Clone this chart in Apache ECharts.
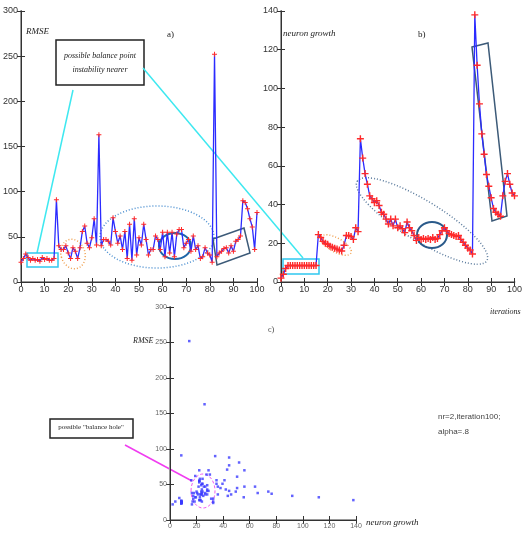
<!DOCTYPE html>
<html>
<head>
<meta charset="utf-8">
<script src="https://cdn.jsdelivr.net/npm/echarts@6/dist/echarts.min.js"></script>
<style>
html, body { margin: 0; padding: 0; background: #fff; }
#main { width: 525px; height: 533px; }
</style>
</head>
<body>
<div id="main"></div>
<script>
// a) RMSE per iteration (iterations 0..100)
var rmse = [22, 26, 31, 27, 24, 26, 24, 25, 23, 27, 25, 26, 24, 24, 26, 91, 40, 36, 36, 40,
	32, 26, 38, 34, 26, 38, 56, 62, 43, 38, 49, 70, 41, 163, 40, 47, 47, 45, 41, 71,
	56, 43, 51, 36, 56, 26, 64, 24, 70, 30, 49, 41, 64, 47, 30, 36, 36, 51, 47, 36,
	55, 28, 55, 32, 55, 28, 53, 58, 58, 38, 43, 47, 34, 51, 36, 40, 26, 28, 38, 32,
	30, 22, 252, 28, 32, 34, 37, 38, 32, 40, 34, 45, 47, 51, 90, 88, 81, 70, 61, 36, 77];
// b) neuron growth per iteration
var growth = [2, 4, 7, 8.5, 8.5, 8.5, 8.5, 8.5, 8.5, 8.5, 8.5, 8.5, 8.5, 8.5, 8.5, 8.5, 24.5, 23, 21, 20,
	19.5, 18.5, 18, 17.5, 17, 16.5, 16, 19, 24, 24, 23.5, 22, 28, 26, 74, 64, 56, 50.5, 44.5, 43,
	41, 42, 39.5, 36, 35, 32.5, 30, 32.5, 29, 32.5, 28, 29, 27.5, 25.5, 31, 28, 26.5, 24, 21.5, 23,
	22, 22.5, 22, 22.5, 22, 23, 22, 22.5, 24.5, 26.5, 28, 26.5, 25, 24.5, 24, 23.5, 24, 22, 20.5, 19,
	17.5, 16.5, 14.5, 138, 112, 92, 76.5, 66, 55.5, 49.5, 43.5, 38, 36, 35, 34, 44.5, 52, 56, 50.5, 46, 44.5];

var lineA = [], lineB = [], scat = [];
for (var i = 0; i < rmse.length; i++) {
	lineA.push([i, rmse[i]]);
	lineB.push([i, growth[i]]);
	scat.push([growth[i], rmse[i]]);
}

var plus = 'path://M4,0 L6,0 L6,4 L10,4 L10,6 L6,6 L6,10 L4,10 L4,6 L0,6 L0,4 L4,4 Z';
var serif = 'italic 9px "Liberation Serif"';

var grids = [
	{ left: 20, top: 11, width: 237, height: 271 },
	{ left: 281, top: 11, width: 236, height: 271 },
	{ left: 170, top: 307, width: 186, height: 213 }
];
var xAxes = [], yAxes = [];
function addAxes(g, xMax, xStep, yMax, yStep, size, color) {
	var lab = { fontSize: size, color: color, fontFamily: 'Liberation Sans', margin: 3 };
	var tick = { inside: true, length: 4, lineStyle: { color: '#333' } };
	xAxes.push({ gridIndex: g, type: 'value', min: 0, max: xMax, interval: xStep,
		axisLine: { onZero: false, lineStyle: { color: '#9a9a9a', width: 2 } }, axisTick: tick,
		axisLabel: lab, splitLine: { show: false } });
	xAxes.push({ gridIndex: g, type: 'value', position: 'top', min: 0, max: xMax, interval: xStep,
		axisLine: { lineStyle: { color: '#333', width: 1 } }, axisTick: tick,
		axisLabel: { show: false }, splitLine: { show: false } });
	yAxes.push({ gridIndex: g, type: 'value', min: 0, max: yMax, interval: yStep,
		axisLine: { show: true, onZero: false, lineStyle: { color: '#9a9a9a', width: 2 } }, axisTick: tick,
		axisLabel: lab, splitLine: { show: false } });
	yAxes.push({ gridIndex: g, type: 'value', position: 'right', min: 0, max: yMax, interval: yStep,
		axisLine: { show: true, lineStyle: { color: '#333', width: 1 } }, axisTick: tick,
		axisLabel: { show: false }, splitLine: { show: false } });
}
addAxes(0, 100, 10, 300, 50, 9, '#333');
addAxes(1, 100, 10, 140, 20, 9, '#333');
addAxes(2, 140, 20, 300, 50, 7, '#666');

var option = {
	animation: false,
	grid: grids,
	xAxis: xAxes,
	yAxis: yAxes,
	series: [
		{
			type: 'line', xAxisIndex: 0, yAxisIndex: 0, data: lineA,
			lineStyle: { color: '#2b2bff', width: 1.3 },
			symbol: plus, symbolSize: 5, showSymbol: true,
			itemStyle: { color: '#ff2a2a' }
		},
		{
			type: 'line', xAxisIndex: 2, yAxisIndex: 2, data: lineB,
			lineStyle: { color: '#2b2bff', width: 1.3 },
			symbol: plus, symbolSize: 7, showSymbol: true,
			itemStyle: { color: '#ff2a2a' }
		},
		{
			type: 'scatter', xAxisIndex: 4, yAxisIndex: 4, data: scat,
			symbol: 'rect', symbolSize: 2.5,
			itemStyle: { color: '#3b3bff' }
		}
	],
	graphic: [
		// panel a annotations
		{ type: 'text', style: { text: 'RMSE', x: 26, y: 27, font: serif, fill: '#222' } },
		{ type: 'text', style: { text: 'a)', x: 167, y: 30, font: '9px "Liberation Serif"', fill: '#222' } },
		{ type: 'rect', shape: { x: 56, y: 40, width: 88, height: 45 }, style: { fill: '#fff', stroke: '#222', lineWidth: 1.5 } },
		{ type: 'text', style: { text: 'possible balance point', x: 100, y: 52, align: 'center', font: 'italic 8px "Liberation Serif"', fill: '#222' } },
		{ type: 'text', style: { text: 'instability nearer', x: 100, y: 66, align: 'center', font: 'italic 8px "Liberation Serif"', fill: '#222' } },
		{ type: 'line', shape: { x1: 73, y1: 90, x2: 37, y2: 253 }, style: { stroke: '#3ee8f0', lineWidth: 1.5 } },
		{ type: 'line', shape: { x1: 143, y1: 68, x2: 303, y2: 258 }, style: { stroke: '#3ee8f0', lineWidth: 1.5 } },
		{ type: 'rect', shape: { x: 27, y: 253, width: 31, height: 14 }, style: { fill: 'none', stroke: '#2fc8f0', lineWidth: 1.5 } },
		{ type: 'ellipse', x: 73, y: 254, rotation: 0.3, shape: { cx: 0, cy: 0, rx: 12, ry: 15 },
			style: { fill: 'none', stroke: '#f0a050', lineWidth: 1.5, lineDash: [1, 2] } },
		{ type: 'ellipse', shape: { cx: 157, cy: 237, rx: 57, ry: 31 },
			style: { fill: 'none', stroke: '#4b8fd0', lineWidth: 1.5, lineDash: [1, 2] } },
		{ type: 'ellipse', shape: { cx: 175, cy: 246, rx: 16, ry: 13 },
			style: { fill: 'none', stroke: '#1f66a8', lineWidth: 2 } },
		{ type: 'polygon', shape: { points: [[213, 239], [244, 228], [250, 253], [217, 265]] },
			style: { fill: 'none', stroke: '#3c5a78', lineWidth: 1.5 } },
		// panel b annotations
		{ type: 'text', style: { text: 'neuron growth', x: 283, y: 29, font: serif, fill: '#222' } },
		{ type: 'text', style: { text: 'b)', x: 418, y: 30, font: '9px "Liberation Serif"', fill: '#222' } },
		{ type: 'text', style: { text: 'iterations', x: 490, y: 308, font: 'italic 8px "Liberation Serif"', fill: '#222' } },
		{ type: 'rect', shape: { x: 283, y: 259, width: 36, height: 15 }, style: { fill: 'none', stroke: '#2fc8f0', lineWidth: 1.5 } },
		{ type: 'ellipse', x: 336, y: 245, rotation: -0.5, shape: { cx: 0, cy: 0, rx: 17, ry: 7 },
			style: { fill: 'none', stroke: '#f0a050', lineWidth: 1.5, lineDash: [1, 2] } },
		{ type: 'ellipse', x: 422, y: 221, rotation: -0.55, shape: { cx: 0, cy: 0, rx: 76, ry: 20 },
			style: { fill: 'none', stroke: '#5a7a9c', lineWidth: 1.5, lineDash: [1, 2] } },
		{ type: 'ellipse', shape: { cx: 432, cy: 235, rx: 15, ry: 13 },
			style: { fill: 'none', stroke: '#2a5a8a', lineWidth: 2 } },
		{ type: 'polygon', shape: { points: [[472, 47], [488, 43], [507, 216], [492, 221]] },
			style: { fill: 'none', stroke: '#3c5a78', lineWidth: 1.5 } },
		// panel c annotations
		{ type: 'text', style: { text: 'RMSE', x: 133, y: 337, font: 'italic 8px "Liberation Serif"', fill: '#222' } },
		{ type: 'text', style: { text: 'c)', x: 268, y: 326, font: '8px "Liberation Serif"', fill: '#444' } },
		{ type: 'text', style: { text: 'neuron growth', x: 366, y: 518, font: serif, fill: '#222' } },
		{ type: 'text', style: { text: 'nr=2,iteration100;', x: 438, y: 413, font: '8px "Liberation Sans"', fill: '#444' } },
		{ type: 'text', style: { text: 'alpha=.8', x: 438, y: 428, font: '8px "Liberation Sans"', fill: '#444' } },
		{ type: 'rect', shape: { x: 50, y: 419, width: 83, height: 19 }, style: { fill: '#fff', stroke: '#222', lineWidth: 1.5 } },
		{ type: 'text', style: { text: 'possible "balance hole"', x: 91, y: 424, align: 'center', font: '7px "Liberation Serif"', fill: '#222' } },
		{ type: 'line', shape: { x1: 125, y1: 445, x2: 192, y2: 481 }, style: { stroke: '#f03cf0', lineWidth: 1.5 } },
		{ type: 'ellipse', shape: { cx: 203, cy: 491, rx: 12, ry: 17 },
			style: { fill: 'none', stroke: '#f05af0', lineWidth: 1, lineDash: [3, 2] } }
	]
};

var chart = echarts.init(document.getElementById('main'));
chart.setOption(option);
</script>
</body>
</html>
